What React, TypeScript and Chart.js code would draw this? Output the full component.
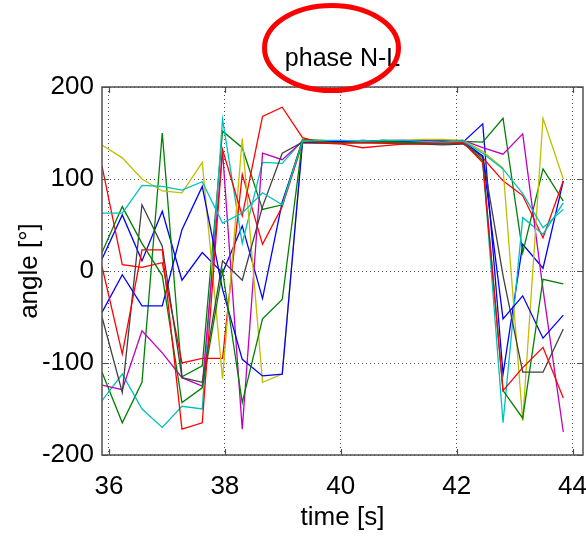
import React, { useEffect, useRef } from 'react';
import { Chart, registerables } from 'chart.js';

Chart.register(...registerables);

// sample times [s]
const times = [
  35.88, 36.23, 36.57, 36.92, 37.26, 37.61, 37.96, 38.3, 38.65, 38.99, 39.34, 39.68,
  40.03, 40.38, 40.72, 41.07, 41.41, 41.76, 42.11, 42.45, 42.8, 43.14, 43.49, 43.84,
];
const xTicks = [36, 38, 40, 42, 44];
const yTicks = [-200, -100, 0, 100, 200];

// series values [deg]
const blue1 = [13, 61, 11, 65, -10, 20, -2, 49, -30, 75, 141, 141, 140, 142, 141, 141, 140, 141, 140, 160, -112, 29, 3, 98];
const green1 = [-110, -165, -121, 150, -115, -103, 152, 134, 67, 72, 143, 142, 140, 141, 140, 139, 141, 142, 141, 140, 166, 20, 111, 76];
const red1 = [114, 7, 4, 9, -100, -95, -95, 105, 29, 70, 139, 139, 138, 134, 136, 138, 139, 138, 139, 123, 98, 82, 36, 98];
const cyan1 = [-141, -112, -150, -170, -147, -150, 165, 30, 118, 117, 142, 141, 141, 142, 141, 142, 141, 141, 142, 120, -165, 58, 40, 74];
const magenta1 = [-124, -129, -65, -89, -116, -125, 130, -172, 128, 121, 141, 141, 141, 141, 142, 142, 142, 141, 142, 134, 127, 149, -20, -175];
const yellow1 = [137, 123, 100, 87, 85, 118, -117, 144, -121, -112, 142, 141, 142, 141, 141, 142, 143, 143, 142, 130, 112, -163, 166, 100];
const gray1 = [-50, -132, 72, 27, -116, -121, 11, -10, 70, 128, 140, 139, 140, 140, 139, 139, 138, 137, 138, 125, -5, -110, -110, -63];
const blue2 = [-45, -4, -38, -38, 45, 92, -20, -96, -114, -112, 140, 140, 141, 140, 142, 141, 141, 140, 141, 125, -52, -27, -73, -48];
const green2 = [20, 70, 30, -5, -143, -127, 0, -143, -52, -31, 141, 140, 139, 140, 141, 140, 139, 139, 140, 120, -130, -160, -9, -14];
const red2 = [5, -90, 23, 23, -172, -165, 132, 60, 168, 178, 145, 139, 139, 139, 139, 138, 138, 139, 140, 118, -130, -105, -83, -138];
const cyan2 = [63, 63, 93, 92, 88, 97, 52, 63, 85, 72, 141, 142, 142, 141, 142, 142, 141, 140, 141, 128, 111, 84, 47, 67];

const FONT = "'Liberation Sans', Arial, Helvetica, sans-serif";

const boxPlugin = {
  id: 'matlabBox',
  afterDraw(chart: any) {
    const { ctx, chartArea: a, scales } = chart;
    ctx.save();
    ctx.strokeStyle = '#505050';
    ctx.lineWidth = 1.5;
    ctx.setLineDash([]);
    ctx.strokeRect(a.left, a.top, a.right - a.left, a.bottom - a.top);
    ctx.lineWidth = 1.2;
    const tl = 6;
    ctx.beginPath();
    xTicks.forEach((v) => {
      const px = Math.round(scales.x.getPixelForValue(v)) + 0.5;
      ctx.moveTo(px, a.bottom);
      ctx.lineTo(px, a.bottom - tl);
      ctx.moveTo(px, a.top);
      ctx.lineTo(px, a.top + tl);
    });
    yTicks.forEach((v) => {
      const py = Math.round(scales.y.getPixelForValue(v)) + 0.5;
      ctx.moveTo(a.left, py);
      ctx.lineTo(a.left + tl, py);
      ctx.moveTo(a.right, py);
      ctx.lineTo(a.right - tl, py);
    });
    ctx.stroke();
    // red annotation ellipse around the title
    ctx.strokeStyle = '#ff0000';
    ctx.lineWidth = 5;
    ctx.beginPath();
    ctx.ellipse(331.5, 48, 67, 42.5, 0, 0, Math.PI * 2);
    ctx.stroke();
    ctx.restore();
  },
};

const App = () => {
  const ref = useRef<HTMLCanvasElement>(null);
  useEffect(() => {
    const canvas = ref.current;
    if (!canvas) return;
    const series = [
      { data: blue1, color: '#0000ff' },
      { data: green1, color: '#008000' },
      { data: red1, color: '#ff0000' },
      { data: cyan1, color: '#00bfbf' },
      { data: magenta1, color: '#bf00bf' },
      { data: yellow1, color: '#bfbf00' },
      { data: gray1, color: '#404040' },
      { data: blue2, color: '#0000ff' },
      { data: green2, color: '#008000' },
      { data: red2, color: '#ff0000' },
      { data: cyan2, color: '#00bfbf' },
    ];
    const tickFont = { family: FONT, size: 26, weight: 'normal' as const };
    const chart = new Chart(canvas, {
      type: 'line',
      data: {
        datasets: series.map((s, i) => ({
          data: times.map((t, j) => ({ x: t, y: s.data[j] })),
          borderColor: s.color,
          borderWidth: 1.3,
          pointRadius: 0,
          fill: false,
          tension: 0,
          order: series.length - i,
        })),
      },
      options: {
        responsive: false,
        animation: false,
        devicePixelRatio: 1,
        layout: { padding: { top: 0, right: 3, left: 0, bottom: 0 } },
        plugins: {
          legend: { display: false },
          tooltip: { enabled: false },
          title: {
            display: true,
            text: 'phase N-L',
            fullSize: false,
            color: '#000',
            font: { family: FONT, size: 25, weight: 'normal' },
            padding: { top: 44, bottom: 13 },
          },
        },
        scales: {
          x: {
            type: 'linear',
            min: 35.88,
            max: 44.18,
            afterBuildTicks: (s: any) => {
              s.ticks = xTicks.map((v) => ({ value: v }));
            },
            afterFit: (s: any) => {
              s.height = 81;
              s.paddingLeft = 0;
              s.paddingRight = 0;
            },
            grid: { color: '#505050', lineWidth: 1, drawTicks: false },
            border: { display: false, dash: [1, 3] },
            ticks: { color: '#000', font: tickFont, padding: 16, maxRotation: 0, autoSkip: false },
            title: {
              display: true,
              text: 'time [s]',
              color: '#000',
              font: tickFont,
              padding: { top: 0, bottom: 2.5 },
            },
          },
          y: {
            type: 'linear',
            min: -200,
            max: 200,
            afterBuildTicks: (s: any) => {
              s.ticks = yTicks.map((v) => ({ value: v }));
            },
            afterFit: (s: any) => {
              s.width = 102;
              s.paddingTop = 0;
              s.paddingBottom = 0;
            },
            grid: { color: '#505050', lineWidth: 1, drawTicks: false },
            border: { display: false, dash: [1, 3] },
            ticks: { color: '#000', font: tickFont, padding: 8 },
            title: {
              display: true,
              text: 'angle [°]',
              color: '#000',
              font: tickFont,
              padding: { top: 14, bottom: 0 },
            },
          },
        },
      },
      plugins: [boxPlugin],
    });
    return () => chart.destroy();
  }, []);
  return (
    <div style={{ position: 'absolute', left: 0, top: 0, width: 586, height: 536, background: '#fff' }}>
      <canvas ref={ref} width={586} height={536} style={{ display: 'block' }} />
    </div>
  );
};

export default App;
